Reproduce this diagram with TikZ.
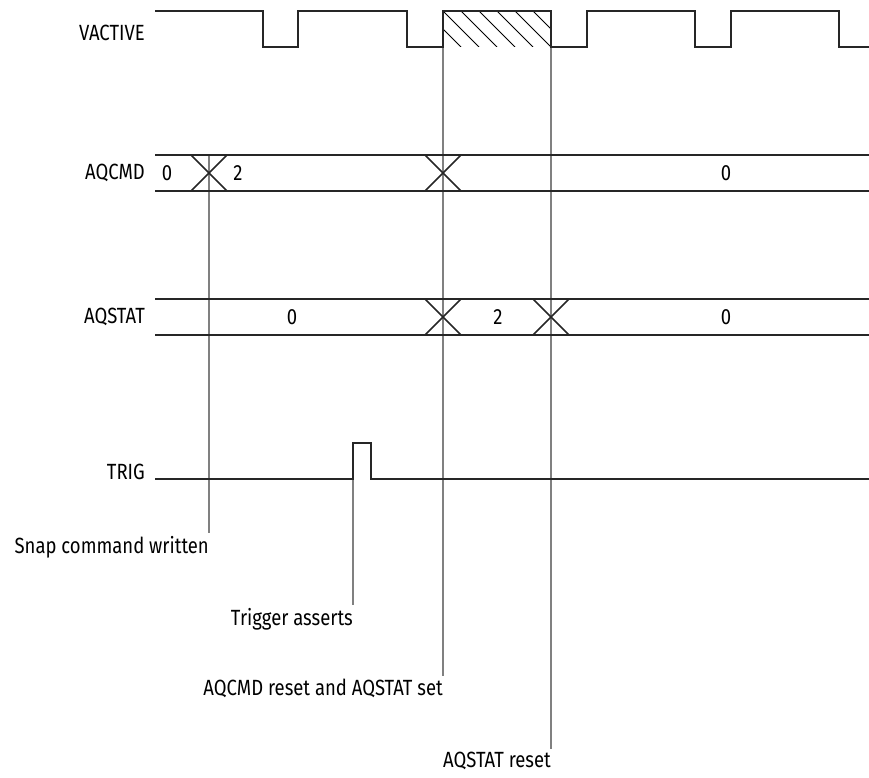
\documentclass[tikz,border=0pt]{standalone}
\usepackage{fontspec}
\setmainfont{Fira Sans}[FakeStretch=0.84]
\usetikzlibrary{positioning}

\tikzset{
  sig/.style={line width=1.6pt, draw=black!85},
  marker/.style={line width=1.1pt, draw=black!50},
  lbl/.style={inner sep=0pt, font=\fontsize{22}{25}\selectfont},
  note/.style={lbl, inner ysep=3pt, anchor=north east}
}

\begin{document}
\begin{tikzpicture}[x=1pt,y=-1pt]
\useasboundingbox (0,0) rectangle (869,778);

% Signal names
\node[lbl, anchor=east] (vactive) at (145,33) {VACTIVE};
\node[lbl, anchor=east] (aqcmd) at (145,173) {AQCMD};
\node[lbl, anchor=east] (aqstat) at (145,317) {AQSTAT};
\node[lbl, anchor=east] (trig) at (145,472) {TRIG};

% Event markers
\coordinate (snaptop) at (209,155);
\coordinate (trigtop) at (353,478);
\coordinate (settop) at (443,47);
\coordinate (resettop) at (551,47);
\node[note] (snap) at (209,533) {Snap command written};
\node[note] (trigasserts) at (353,605) {Trigger asserts};
\node[note] (cmdreset) at (443,676) {AQCMD reset and AQSTAT set};
\node[note] (statreset) at (551,749) {AQSTAT reset};
\draw[marker] (snaptop) -- (snap.north east);
\draw[marker] (trigtop) -- (trigasserts.north east);
\draw[marker] (settop) -- (cmdreset.north east);
\draw[marker] (resettop) -- (statreset.north east);

% VACTIVE
\begin{scope}
  \clip (443,11) rectangle (551,47);
  \foreach \x in {389,407,...,551}
    \draw[line width=1pt] (\x,11) -- (\x+36,47);
\end{scope}
\draw[sig] (155,11) -| (263,47) -| (298,11) -| (407,47) -| (443,11)
  -| (551,47) -| (587,11) -| (695,47) -| (731,11) -| (839,47) -- (869,47);

% AQCMD bus
\draw[sig] (155,155) -- (869,155);
\draw[sig] (155,191) -- (869,191);
\foreach \c in {209,443}
  \draw[sig] (\c-18,191) -- (\c+18,155) (\c-18,155) -- (\c+18,191);
\node[lbl] (cmda) at (167,173) {0};
\node[lbl] (cmdb) at (238,173) {2};
\node[lbl] (cmdc) at (726,173) {0};

% AQSTAT bus
\draw[sig] (155,299) -- (869,299);
\draw[sig] (155,335) -- (869,335);
\foreach \c in {443,551}
  \draw[sig] (\c-18,335) -- (\c+18,299) (\c-18,299) -- (\c+18,335);
\node[lbl] (stata) at (292,317) {0};
\node[lbl] (statb) at (498,317) {2};
\node[lbl] (statc) at (726,317) {0};

% TRIG
\draw[sig] (155,479) -| (353,443) -| (371,479) -- (869,479);

\end{tikzpicture}
\end{document}
